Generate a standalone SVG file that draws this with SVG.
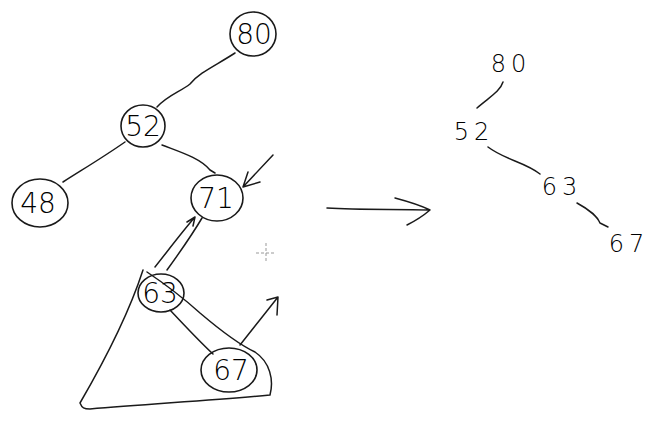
<svg xmlns="http://www.w3.org/2000/svg" width="672" height="429" viewBox="0 0 672 429">
<style>
.ln{fill:none;stroke:#1a1a1a;stroke-width:1.5;stroke-linecap:round;stroke-linejoin:round}
.nd{fill:none;stroke:#1a1a1a;stroke-width:1.6}
.t{font-family:"DejaVu Sans","Liberation Sans",sans-serif;font-weight:200;fill:#000;text-anchor:middle}
.tc{font-size:28px}
.tr{font-size:24px;letter-spacing:5px}
.cur{stroke:#999;stroke-width:1;stroke-dasharray:3 2}
</style>
<rect width="672" height="429" fill="#fff"/>
<g id="connectors">
<path class="ln" d="M235,53 C215,66 200,72 190,84 C180,92 168,95 157,107"/>
<path class="ln" d="M125,142 C105,156 85,168 63,182"/>
<path class="ln" d="M162,145 C180,152 200,158 210,170 L215,173"/>
<path class="ln" d="M273,155 L243,187 M248,172 L243,187 L260,182"/>
<path class="ln" d="M155,267 C170,248 182,232 195,217 M187,222 L195,217 L193,226"/>
<path class="ln" d="M167,270 C180,252 192,235 202,218"/>
<path class="ln" d="M170,310 C185,326 200,342 213,354"/>
<path class="ln" d="M143,270 C130,310 105,360 80,403 C82,408 84,409 90,409 C150,404 215,400 270,395 C274,380 270,362 255,352 C240,345 220,330 200,313 C180,295 162,282 147,272"/>
<path class="ln" d="M240,345 C252,330 266,312 278,297 M267,300 L278,297 L277,315"/>
<path class="ln" d="M327,208 C360,210 395,209 430,210 M395,198 C410,202 420,205 430,210 C423,216 415,221 407,225"/>
<path class="ln" d="M503,82 C500,92 488,98 477,108"/>
<path class="ln" d="M488,147 C505,160 525,162 540,174"/>
<path class="ln" d="M577,203 C590,210 598,218 600,223 L608,227"/>
<path class="cur" d="M266,243 V263 M256,253 H276"/>
</g>
<g id="n80"><ellipse class="nd" cx="253" cy="34" rx="23" ry="22"/><text class="t tc" x="254" y="44">80</text></g>
<g id="n52"><ellipse class="nd" cx="143" cy="126" rx="22" ry="21"/><text class="t tc" x="143" y="136">52</text></g>
<g id="n48"><ellipse class="nd" cx="40" cy="203" rx="28" ry="24"/><text class="t tc" x="38" y="213">48</text></g>
<g id="n71"><ellipse class="nd" cx="217" cy="198" rx="26" ry="23"/><text class="t tc" x="216" y="208">71</text></g>
<g id="n63"><ellipse class="nd" cx="161" cy="293" rx="23" ry="19"/><text class="t tc" x="160" y="303">63</text></g>
<g id="n67"><ellipse class="nd" cx="229" cy="370" rx="28" ry="22"/><text class="t tc" x="231" y="380">67</text></g>
<g id="r80"><text class="t tr" x="511" y="72">80</text></g>
<g id="r52"><text class="t tr" x="474" y="140">52</text></g>
<g id="r63"><text class="t tr" x="562" y="195">63</text></g>
<g id="r67"><text class="t tr" x="629" y="252">67</text></g>
</svg>
